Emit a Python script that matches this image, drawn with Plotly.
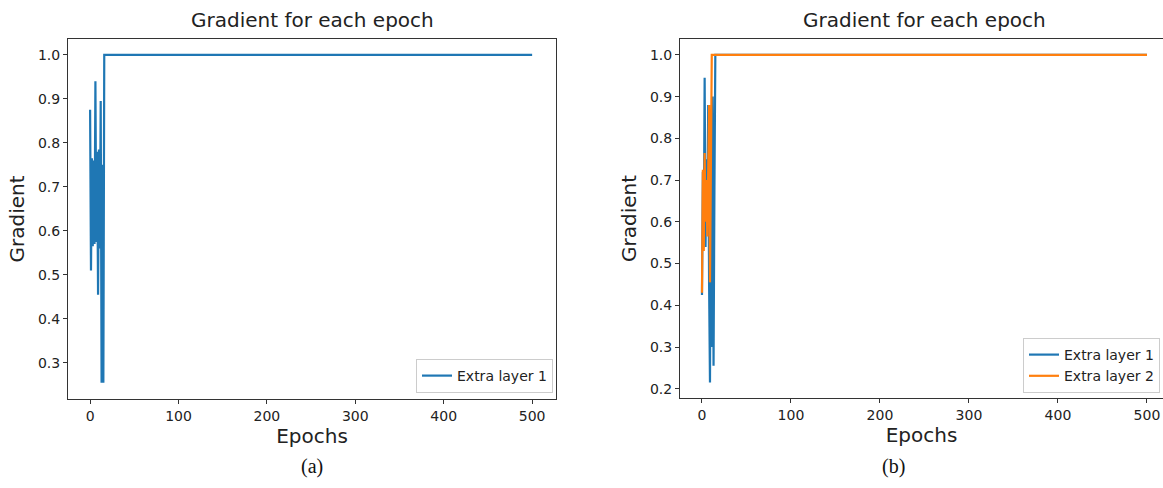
import plotly.graph_objects as go

# ---- data ----
epochs_a = [0, 1, 2, 3, 4, 5, 6, 7, 8, 9, 10, 11, 12, 13, 14, 15, 16, 500]
grad_a_layer1 = [0.875, 0.51, 0.765, 0.565, 0.76, 0.57, 0.94, 0.575, 0.78, 0.455,
                 0.785, 0.56, 0.895, 0.255, 0.75, 0.255, 1.0, 1.0]

epochs_b1 = [0, 1, 2, 3, 4, 5, 6, 7, 8, 9, 10, 11, 12, 13, 14, 15, 500]
grad_b_layer1 = [0.425, 0.72, 0.57, 0.945, 0.54, 0.75, 0.6, 0.88, 0.45, 0.215,
                 0.85, 0.3, 0.9, 0.255, 0.685, 1.0, 1.0]

epochs_b2 = [0, 1, 2, 3, 4, 5, 6, 7, 8, 9, 10, 11, 500]
grad_b_layer2 = [0.43, 0.725, 0.53, 0.765, 0.6, 0.7, 0.565, 0.75, 0.88, 0.455,
                 0.89, 1.0, 1.0]

x_ticks = [0, 100, 200, 300, 400, 500]
y_ticks_a = [0.3, 0.4, 0.5, 0.6, 0.7, 0.8, 0.9, 1.0]
y_ticks_b = [0.2, 0.3, 0.4, 0.5, 0.6, 0.7, 0.8, 0.9, 1.0]

title_text = "Gradient for each epoch"
BLUE = "#1f77b4"
ORANGE = "#ff7f0e"
W, H = 1163, 488
FONT = "DejaVu Sans"

fig = go.Figure()
fig.add_trace(go.Scatter(x=epochs_a, y=grad_a_layer1, mode="lines", name="Extra layer 1",
                         line=dict(color=BLUE, width=2.2), xaxis="x", yaxis="y", legend="legend"))
fig.add_trace(go.Scatter(x=epochs_b1, y=grad_b_layer1, mode="lines", name="Extra layer 1",
                         line=dict(color=BLUE, width=2.2), xaxis="x2", yaxis="y2", legend="legend2"))
fig.add_trace(go.Scatter(x=epochs_b2, y=grad_b_layer2, mode="lines", name="Extra layer 2",
                         line=dict(color=ORANGE, width=2.2), xaxis="x2", yaxis="y2", legend="legend2"))

def px_x(p):
    return p / W

def px_y(p):
    return 1 - p / H

axis_common = dict(showgrid=False, zeroline=False, showline=True, linecolor="#333333",
                   linewidth=1, ticks="outside", ticklen=4, tickcolor="#333333",
                   tickfont=dict(family=FONT, size=14, color="#222222"))

fig.update_layout(
    width=W, height=H, margin=dict(l=0, r=0, t=0, b=0),
    paper_bgcolor="white", plot_bgcolor="white",
    font=dict(family=FONT, color="#222222"),
    xaxis=dict(domain=[px_x(68), px_x(556)], range=[-25, 527], anchor="y",
               tickvals=x_ticks, mirror=True,
               title=dict(text="Epochs", font=dict(size=20, family=FONT), standoff=5),
               **axis_common),
    yaxis=dict(domain=[px_y(399), px_y(39)], range=[0.218, 1.036], anchor="x",
               tickvals=y_ticks_a, tickformat=".1f", mirror=True,
               title=dict(text="Gradient", font=dict(size=20, family=FONT), standoff=7),
               **axis_common),
    xaxis2=dict(domain=[px_x(680), 1.0], range=[-24.7, 518], anchor="y2",
                tickvals=x_ticks, mirror=True,
                title=dict(text="Epochs", font=dict(size=20, family=FONT), standoff=5),
                **axis_common),
    yaxis2=dict(domain=[px_y(398), px_y(39)], range=[0.178, 1.038], anchor="x2",
                tickvals=y_ticks_b, tickformat=".1f", mirror=False,
                title=dict(text="Gradient", font=dict(size=20, family=FONT), standoff=7),
                **axis_common),
    legend=dict(x=px_x(553), y=px_y(393), xanchor="right", yanchor="bottom",
                bgcolor="white", bordercolor="#cccccc", borderwidth=1,
                font=dict(family=FONT, size=14, color="#222222"), tracegroupgap=0),
    legend2=dict(x=px_x(1160), y=px_y(393), xanchor="right", yanchor="bottom",
                 bgcolor="white", bordercolor="#cccccc", borderwidth=1,
                 font=dict(family=FONT, size=14, color="#222222"), tracegroupgap=0),
    showlegend=True,
)

annotations = [
    dict(text=title_text, x=px_x(312), y=px_y(20), xref="paper", yref="paper",
         showarrow=False, font=dict(family=FONT, size=20, color="#222222"),
         xanchor="center", yanchor="middle"),
    dict(text=title_text, x=px_x(924), y=px_y(20), xref="paper", yref="paper",
         showarrow=False, font=dict(family=FONT, size=20, color="#222222"),
         xanchor="center", yanchor="middle"),
    dict(text="(a)", x=px_x(312), y=px_y(466), xref="paper", yref="paper",
         showarrow=False, font=dict(family="Liberation Serif", size=20, color="#111111"),
         xanchor="center", yanchor="middle"),
    dict(text="(b)", x=px_x(893), y=px_y(466), xref="paper", yref="paper",
         showarrow=False, font=dict(family="Liberation Serif", size=20, color="#111111"),
         xanchor="center", yanchor="middle"),
]
fig.update_layout(annotations=annotations)

fig.write_html("out.html")
